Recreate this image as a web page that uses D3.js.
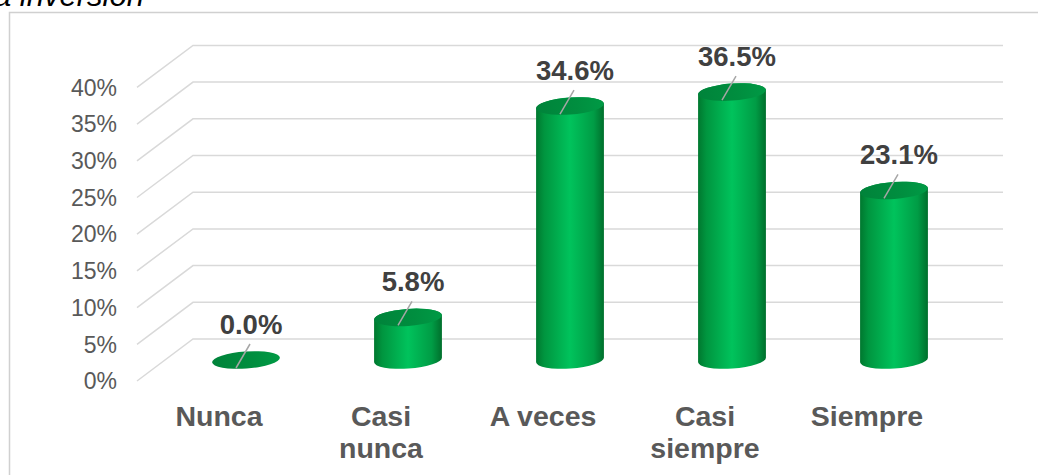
<!DOCTYPE html>
<html><head><meta charset="utf-8">
<script src="https://cdn.jsdelivr.net/npm/d3@7"></script>
<style>body{margin:0;background:#fff}svg{display:block}</style>
</head><body>
<svg id="c" width="1038" height="475"></svg>
<script>
const categories = [["Nunca"], ["Casi", "nunca"], ["A veces"], ["Casi", "siempre"], ["Siempre"]];
const values = [0.0, 5.8, 34.6, 36.5, 23.1];
const valueLabels = ["0.0%", "5.8%", "34.6%", "36.5%", "23.1%"];
const ticks = [0, 5, 10, 15, 20, 25, 30, 35, 40];
const tickLabels = ["0%", "5%", "10%", "15%", "20%", "25%", "30%", "35%", "40%"];
const titleText = "a inversión";

const svg = d3.select("#c");
const font = "'Liberation Sans', Arial, sans-serif";
const keys = categories.map(c => c.join(" "));
const x = d3.scaleBand().domain(keys).range([165, 975]);
const y = d3.scaleLinear().domain([0, 40]).range([360, 66.4]);
const dx = 28, dy = 21;

// title (cut off at top)
svg.append("text").attr("x", -6).attr("y", 6).attr("font-family", font)
  .attr("font-style", "italic").attr("font-size", 31).attr("fill", "#000").text(titleText);

// frame
svg.append("path").attr("d", "M9.5,480 L9.5,12.5 L1040,12.5")
  .attr("fill", "none").attr("stroke", "#d0d0d0").attr("stroke-width", 1.5);

// gridlines (3D wall + floor edge)
const gx0 = x.range()[0], gx1 = x.range()[1];
svg.append("g").selectAll("path").data(ticks).join("path")
  .attr("d", t => `M${gx0 - dx},${y(t) + dy} L${gx0 + dx},${y(t) - dy} L${gx1 + dx},${y(t) - dy}`)
  .attr("fill", "none").attr("stroke", "#d9d9d9").attr("stroke-width", 1.5);

// tick labels
svg.append("g").selectAll("text").data(ticks).join("text")
  .attr("x", 117).attr("y", t => y(t) + dy).attr("dy", "0.36em")
  .attr("text-anchor", "end").attr("font-family", font).attr("font-size", 23)
  .attr("fill", "#595959").text((t, i) => tickLabels[i]);

// gradients
const defs = svg.append("defs");
const bg = defs.append("linearGradient").attr("id", "body").attr("x1", 0).attr("x2", 1).attr("y1", 0).attr("y2", 0);
[[0, "#00782f"], [0.12, "#00953f"], [0.5, "#00c35c"], [0.85, "#009c45"], [1, "#006f2c"]]
  .forEach(s => bg.append("stop").attr("offset", s[0]).attr("stop-color", s[1]));
const tg = defs.append("linearGradient").attr("id", "top").attr("x1", 0).attr("x2", 1).attr("y1", 0).attr("y2", 0);
[[0, "#00833a"], [0.6, "#008e3f"], [1, "#009a45"]]
  .forEach(s => tg.append("stop").attr("offset", s[0]).attr("stop-color", s[1]));

// cylinders
const rx = 34, ry = 8.5, rot = -4;
const th = rot * Math.PI / 180;
const ex = rx * Math.cos(th), ey = rx * Math.sin(th);
const bars = svg.append("g");
values.forEach((v, i) => {
  const cx = x(keys[i]) + x.bandwidth() / 2;
  const yb = y(0), yt = y(v);
  if (v > 0) {
    bars.append("path")
      .attr("d", `M${cx - ex},${yt - ey} L${cx - ex},${yb - ey} A${rx},${ry} ${rot} 0 0 ${cx + ex},${yb + ey} L${cx + ex},${yt + ey} A${rx},${ry} ${rot} 0 0 ${cx - ex},${yt - ey} Z`)
      .attr("fill", "url(#body)");
  }
  bars.append("ellipse").attr("cx", cx).attr("cy", yt).attr("rx", rx).attr("ry", ry)
    .attr("transform", `rotate(${rot},${cx},${yt})`).attr("fill", "url(#top)");
  // leader line
  bars.append("line").attr("x1", cx + 4).attr("y1", yt - 16).attr("x2", cx - 10).attr("y2", yt + 8)
    .attr("stroke", "#a6a6a6").attr("stroke-width", 1.5);
  // data label
  bars.append("text").attr("x", cx + 5).attr("y", yt - 26).attr("text-anchor", "middle")
    .attr("font-family", font).attr("font-weight", "bold").attr("font-size", 27.5)
    .attr("fill", "#404040").text(valueLabels[i]);
});

// category labels (front edge)
const cl = svg.append("g");
categories.forEach((c, i) => {
  const cx = x(keys[i]) + x.bandwidth() / 2 - dx + 1;
  const t = cl.append("text").attr("text-anchor", "middle").attr("font-family", font)
    .attr("font-weight", "bold").attr("font-size", 28.5).attr("fill", "#595959");
  c.forEach((line, j) => t.append("tspan").attr("x", cx).attr("y", 426 + j * 32).text(line));
});
</script>
</body></html>
